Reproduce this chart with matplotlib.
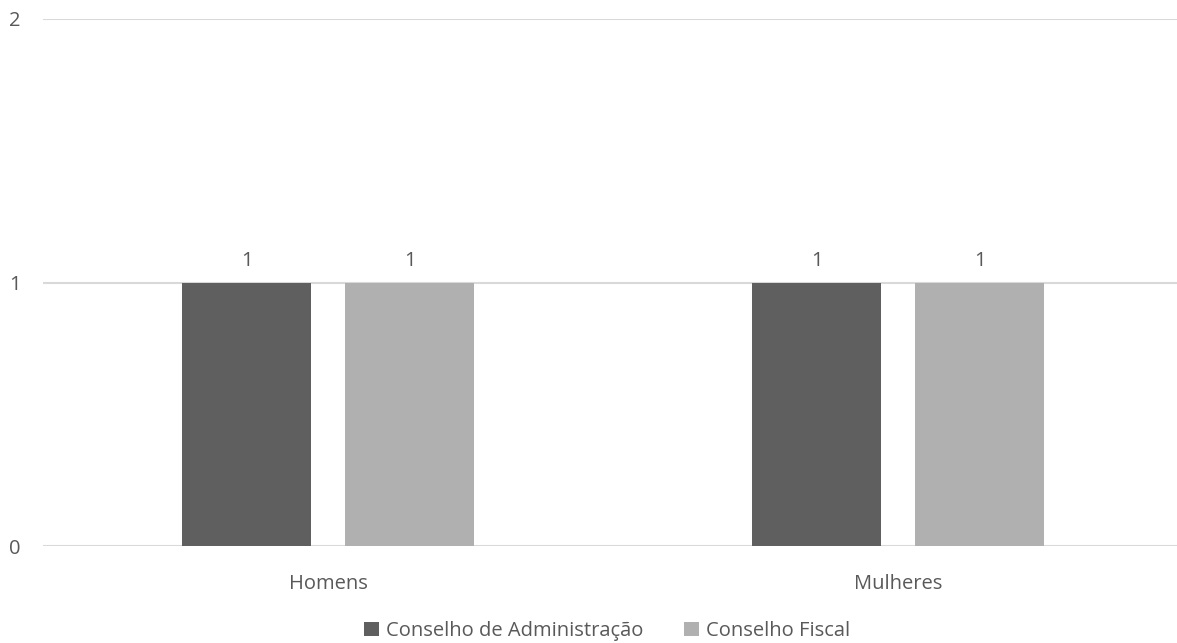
import numpy as np
import matplotlib.pyplot as plt

categories = ["Homens", "Mulheres"]
series_names = ["Conselho de Administração", "Conselho Fiscal"]
admin_values = [1, 1]
fiscal_values = [1, 1]
yticks = [0, 1, 2]

plt.rcParams['font.family'] = ['Open Sans', 'DejaVu Sans']
text_color = '#595959'
fs = 14.5

fig = plt.figure(figsize=(11.77, 6.43), dpi=100)
ax = fig.add_axes([43 / 1177, 1 - 546 / 643, 1140 / 1177, 527 / 643])

x = np.arange(len(categories))
width = 0.2246
offset = 0.143

b1 = ax.bar(x - offset, admin_values, width, color='#5f5f5f', label=series_names[0], zorder=3)
b2 = ax.bar(x + offset, fiscal_values, width, color='#b0b0b0', label=series_names[1], zorder=3)

for bars in (b1, b2):
    ax.bar_label(bars, padding=8, fontsize=fs, color=text_color)

ax.set_xlim(-0.5, 1.5)
ax.set_ylim(0, 2)
ax.set_yticks(yticks)
ax.set_xticks(x)
ax.set_xticklabels(categories)
ax.tick_params(axis='both', length=0, labelsize=fs, labelcolor=text_color)
ax.tick_params(axis='y', pad=16)
ax.tick_params(axis='x', pad=20)
ax.yaxis.grid(True, color='#d9d9d9', linewidth=1.5, zorder=0)
for s in ax.spines.values():
    s.set_visible(False)

fig.legend(handles=[b1, b2], loc='center', bbox_to_anchor=(607 / 1177, 1 - 631 / 643),
           ncol=2, frameon=False, fontsize=fs, labelcolor=text_color,
           handlelength=0.75, handleheight=0.75, handletextpad=0.35, columnspacing=2.0)

plt.savefig('out.png', dpi=100)
